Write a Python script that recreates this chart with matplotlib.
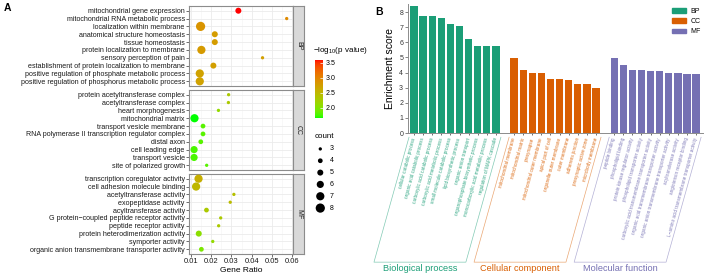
import numpy as np
import matplotlib
matplotlib.use('Agg')
import matplotlib.pyplot as plt
from matplotlib.colors import ListedColormap, Normalize
from matplotlib.cm import ScalarMappable
from matplotlib.patches import Patch

plt.rcParams['font.family'] = ['Liberation Sans', 'DejaVu Sans']
plt.rcParams['mathtext.fontset'] = 'custom'
plt.rcParams['mathtext.rm'] = 'Liberation Sans'

# ---------------- panel A: GO dot plot ----------------
bp_terms = ["mitochondrial gene expression", "mitochondrial RNA metabolic process",
            "localization within membrane", "anatomical structure homeostasis",
            "tissue homeostasis", "protein localization to membrane",
            "sensory perception of pain", "establishment of protein localization to membrane",
            "positive regulation of phosphate metabolic process",
            "positive regulation of phosphorus metabolic process"]
bp_ratio = [0.0334, 0.0572, 0.0148, 0.0218, 0.0218, 0.0152, 0.0453, 0.0211, 0.0144, 0.0144]
bp_count = [5, 3, 8, 5, 5, 7, 3, 5, 7, 7]
bp_logp = [3.6, 2.95, 2.85, 2.78, 2.78, 2.8, 2.75, 2.75, 2.72, 2.72]

cc_terms = ["protein acetyltransferase complex", "acetyltransferase complex",
            "heart morphogenesis", "mitochondrial matrix", "transport vesicle membrane",
            "RNA polymerase II transcription regulator complex", "distal axon",
            "cell leading edge", "transport vesicle", "site of polarized growth"]
cc_ratio = [0.0286, 0.0285, 0.0236, 0.0118, 0.0160, 0.0160, 0.0149, 0.0116, 0.0116, 0.0178]
cc_count = [3, 3, 3, 7, 4, 4, 4, 6, 6, 3]
cc_logp = [2.3, 2.3, 2.1, 1.65, 1.8, 1.8, 1.8, 1.75, 1.75, 1.8]

mf_terms = ["transcription coregulator activity", "cell adhesion molecule binding",
            "acetyltransferase activity", "exopeptidase activity", "acyltransferase activity",
            "G protein\u2212coupled peptide receptor activity", "peptide receptor activity",
            "protein heterodimerization activity", "symporter activity",
            "organic anion transmembrane transporter activity"]
mf_ratio = [0.0138, 0.0126, 0.0312, 0.0294, 0.0177, 0.0247, 0.0237, 0.0139, 0.0208, 0.0152]
mf_count = [7, 7, 3, 3, 4, 3, 3, 5, 3, 4]
mf_logp = [2.6, 2.5, 2.4, 2.45, 2.3, 2.3, 2.3, 2.05, 2.1, 1.95]

count_levels = [3, 4, 5, 6, 7, 8]
cbar_ticks = [2.0, 2.5, 3.0, 3.5]
ratio_ticks = [0.01, 0.02, 0.03, 0.04, 0.05, 0.06]

# ---------------- panel B: enrichment bars ----------------
bp_bar_terms = ["cellular catabolic process", "organic acid catabolic process",
                "carboxylic acid catabolic process", "carboxylic acid metabolic process",
                "small molecule catabolic process", "lipid biosynthetic process",
                "organic anion transport", "organophosphate biosynthetic process",
                "monocarboxylic acid metabolic process", "regulation of MAPK cascade"]
bp_score = [8.43, 7.75, 7.75, 7.62, 7.22, 7.1, 6.2, 5.78, 5.78, 5.78]

cc_bar_terms = ["mitochondrial membrane", "mitochondrial matrix", "presynapse",
                "mitochondrial outer membrane", "apical part of cell",
                "organelle outer membrane", "outer membrane", "adherens junction",
                "presynaptic active zone", "microbody membrane"]
cc_score = [4.99, 4.19, 4.0, 4.0, 3.58, 3.58, 3.49, 3.27, 3.27, 2.98]

mf_bar_terms = ["peptide binding", "phospholipid binding",
                "protein kinase regulator activity", "phospholipid transporter activity",
                "carboxylic acid transmembrane transporter activity",
                "organic acid transmembrane transporter activity",
                "organic anion transmembrane transporter activity",
                "acyltransferase activity", "angiotensin receptor binding",
                "L\u2212amino acid transmembrane transporter activity"]
mf_score = [4.99, 4.48, 4.19, 4.19, 4.08, 4.08, 4.0, 4.0, 3.89, 3.89]

group_names = ["Biological process", "Cellular component", "Molecular function"]
group_keys = ["BP", "CC", "MF"]
group_colors = ["#1B9E77", "#D95F02", "#7570B3"]


def green_red_lab(n=256):
    # ggplot-style gradient green -> red, interpolated in CIE Lab
    t = np.linspace(0, 1, n)
    L = 87.73 + (53.24 - 87.73) * t
    a = -86.18 + (80.09 + 86.18) * t
    b = 83.18 + (67.20 - 83.18) * t
    fy = (L + 16) / 116
    fx = fy + a / 500
    fz = fy - b / 200

    def finv(v):
        return np.where(v > 6 / 29, v ** 3, 3 * (6 / 29) ** 2 * (v - 4 / 29))

    xyz = np.vstack([0.95047 * finv(fx), finv(fy), 1.08883 * finv(fz)])
    M = np.array([[3.2406, -1.5372, -0.4986],
                  [-0.9689, 1.8758, 0.0415],
                  [0.0557, -0.2040, 1.0570]])
    lin = np.clip(M @ xyz, 0, 1)
    rgb = np.where(lin > 0.0031308, 1.055 * lin ** (1 / 2.4) - 0.055, 12.92 * lin)
    return ListedColormap(np.clip(rgb, 0, 1).T)


def dot_size(c):
    d = 3.3 + 5.9 * (np.sqrt(c) - np.sqrt(3)) / (np.sqrt(8) - np.sqrt(3))  # px
    return (d * 0.72) ** 2


cmap = green_red_lab()
norm = Normalize(vmin=1.65, vmax=3.6)

W, H = 709, 274
fig = plt.figure(figsize=(W / 100, H / 100), dpi=100)
fig.patch.set_facecolor('white')


def px_axes(x0, y0, x1, y1):
    return fig.add_axes([x0 / W, 1 - y1 / H, (x1 - x0) / W, (y1 - y0) / H])


facets = [("BP", bp_terms, bp_ratio, bp_count, bp_logp, 6, 86),
          ("CC", cc_terms, cc_ratio, cc_count, cc_logp, 90, 170),
          ("MF", mf_terms, mf_ratio, mf_count, mf_logp, 174, 254)]

for name, terms, ratio, count, logp, top, bottom in facets:
    ax = px_axes(189, top, 293, bottom)
    rows = np.arange(1, len(terms) + 1)
    ax.set_xlim(0.0091, 0.0603)
    ax.set_ylim(len(terms) + 0.6, 0.4)
    ax.set_xticks(ratio_ticks)
    ax.set_xticks([0.015, 0.025, 0.035, 0.045, 0.055], minor=True)
    ax.set_yticks(rows)
    ax.set_yticklabels(terms, fontsize=5.1, color='#1A1A1A')
    ax.grid(which='major', color='#EBEBEB', lw=0.6)
    ax.grid(which='minor', axis='x', color='#F3F3F3', lw=0.4)
    ax.set_axisbelow(True)
    ax.scatter(ratio, rows, s=[dot_size(c) for c in count], c=logp,
               cmap=cmap, norm=norm, linewidths=0, zorder=3)
    for sp in ax.spines.values():
        sp.set_color('#8C8C8C')
        sp.set_linewidth(0.8)
    ax.tick_params(axis='y', length=2, width=0.5, color='#333333', pad=1)
    ax.tick_params(which='minor', length=0)
    if name == "MF":
        ax.tick_params(axis='x', length=2, width=0.5, color='#333333', pad=1,
                       labelsize=5.5, labelcolor='#1A1A1A')
        ax.set_xticklabels([f"{v:.2f}" for v in ratio_ticks])
        ax.set_xlabel("Gene Ratio", fontsize=6, labelpad=1)
    else:
        ax.tick_params(axis='x', bottom=False, labelbottom=False)

    sax = px_axes(293, top, 304, bottom)
    sax.set_facecolor('#D9D9D9')
    sax.set_xticks([])
    sax.set_yticks([])
    for sp in sax.spines.values():
        sp.set_color('#8C8C8C')
        sp.set_linewidth(0.8)
    sax.text(0.5, 0.5, name, rotation=-90, ha='center', va='center',
             fontsize=5, color='#1A1A1A', transform=sax.transAxes)

# colour legend
fig.text(313 / W, 1 - 50 / H, r'$\mathregular{-log_{10}(p\ value)}$',
         fontsize=5.8, ha='left', va='center')
cax = px_axes(315, 60, 323, 118)
cb = fig.colorbar(ScalarMappable(norm=norm, cmap=cmap), cax=cax, ticks=cbar_ticks)
cb.outline.set_visible(False)
cax.tick_params(length=2, width=0.5, color='white', direction='in', labelsize=5, pad=2)
cax.set_yticklabels([f"{v:.1f}" for v in cbar_ticks])

# size legend
fig.text(315 / W, 1 - 137 / H, "count", fontsize=5.8, ha='left', va='center')
lax = px_axes(313, 143, 340, 214)
lev = np.arange(len(count_levels))
lax.scatter(np.full(len(lev), 0.27), lev, s=[dot_size(c) for c in count_levels],
            color='black', linewidths=0)
for i, c in zip(lev, count_levels):
    lax.text(0.62, i, str(c), fontsize=5, va='center', ha='left')
lax.set_xlim(0, 1)
lax.set_ylim(len(lev) - 0.5, -0.5)
lax.axis('off')

fig.text(4 / W, 1 - 8 / H, "A", fontsize=7.5, fontweight='bold', ha='left', va='center')
fig.text(375 / W, 1 - 12 / H, "B", fontsize=7.5, fontweight='bold', ha='left', va='center')

# ---------------- panel B drawing ----------------
axb = px_axes(408, 4, 703, 133)
groups = [(bp_bar_terms, bp_score), (cc_bar_terms, cc_score), (mf_bar_terms, mf_score)]
all_pos, all_lab, all_col = [], [], []
start = 0
for (terms, score), key, col, gname in zip(groups, group_keys, group_colors, group_names):
    pos = np.arange(start, start + len(score))
    axb.bar(pos, score, width=0.8, color=col, label=key, zorder=2)
    all_pos += list(pos)
    all_lab += terms
    all_col += [col] * len(terms)
    # slanted bracket under the labels
    shift, ytop, ybot = -3.85, -0.28, -8.55
    xl, xr = pos[0] - 0.55, pos[-1] + 0.55
    axb.plot([xl, xl + shift, xr + shift, xr], [ytop, ybot, ybot, ytop],
             color=col, lw=0.5, alpha=0.55, clip_on=False)
    axb.text((xl + xr) / 2 + shift, -8.95, gname, ha='center', va='center',
             fontsize=6.6, color=col, clip_on=False)
    start += len(score) + 1

axb.set_xlim(-0.66, 31.76)
axb.set_ylim(0, 8.54)
axb.set_yticks(range(0, 9))
axb.tick_params(axis='y', length=2, width=0.5, color='#555555', labelsize=5,
                labelcolor='#333333', pad=1.5)
axb.set_xticks(all_pos)
axb.set_xticklabels(all_lab, rotation=75, ha='right', va='center',
                    rotation_mode='anchor', fontsize=3.3)
axb.tick_params(axis='x', length=1.5, width=0.4, pad=2)
for tick, lab, col in zip(axb.xaxis.get_major_ticks(), axb.get_xticklabels(), all_col):
    tick.tick1line.set_color(col)
    lab.set_color(col)
    lab.set_alpha(0.9)
for s in ['top', 'right']:
    axb.spines[s].set_visible(False)
for s in ['left', 'bottom']:
    axb.spines[s].set_color('#8C8C8C')
    axb.spines[s].set_linewidth(0.7)
axb.set_ylabel("Enrichment score", fontsize=7.5, labelpad=3)

handles = [Patch(color=c, label=k) for c, k in zip(group_colors, group_keys)]
axb.legend(handles=handles, loc='upper right', bbox_to_anchor=(701 / W, 1 - 8 / H),
           bbox_transform=fig.transFigure, frameon=False, fontsize=5,
           handlelength=2.0, handleheight=0.6, labelspacing=0.45, handletextpad=0.7,
           borderaxespad=0, borderpad=0)

fig.savefig("out.png", dpi=100, facecolor='white')
